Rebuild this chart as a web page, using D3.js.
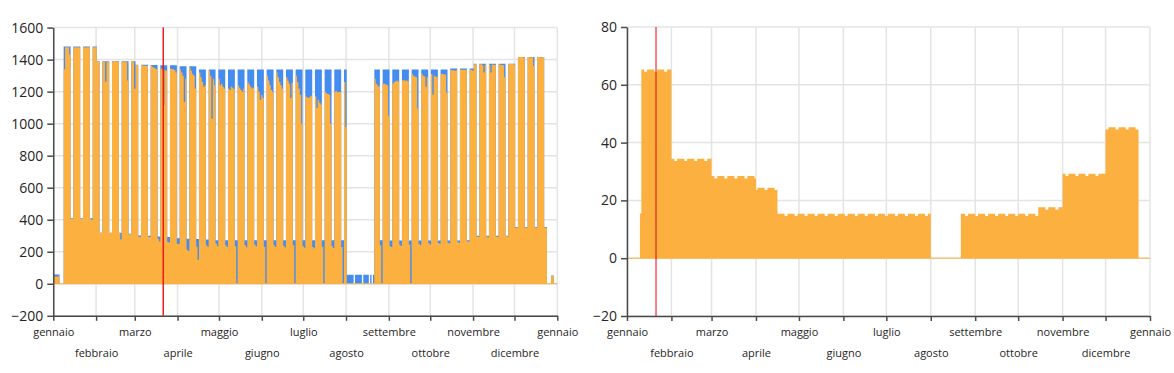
<!DOCTYPE html>
<html>
<head>
<meta charset="utf-8">
<script src="https://cdn.jsdelivr.net/npm/d3@7"></script>
<style>
  body { margin: 0; background: #fff; }
  #chart text { font-family: "Open Sans", sans-serif; fill: #262626; }
</style>
</head>
<body>
<svg id="chart" width="1174" height="373"></svg>
<script>
const monthLabels = ["gennaio", "febbraio", "marzo", "aprile", "maggio", "giugno", "luglio", "agosto", "settembre", "ottobre", "novembre", "dicembre", "gennaio"];
const leftTicks = [-200, 0, 200, 400, 600, 800, 1000, 1200, 1400, 1600];
const rightTicks = [-20, 0, 20, 40, 60, 80];

// daily values, one row per week (lun..dom), year 2018
const plannedWeeks = [
  [58, 58, 58, 58, 0, 0, 0],
  [1482, 1482, 1482, 1482, 1482, 410, 410],
  [1482, 1482, 1482, 1482, 1482, 410, 410],
  [1482, 1482, 1482, 1482, 1482, 410, 410],
  [1482, 1482, 1482, 1390, 1390, 318, 318],
  [1390, 1390, 1390, 1390, 1390, 318, 318],
  [1390, 1390, 1390, 1390, 1390, 318, 318],
  [1390, 1390, 1390, 1390, 1390, 312, 312],
  [1390, 1390, 1390, 1368, 1368, 302, 302],
  [1368, 1368, 1368, 1368, 1368, 300, 300],
  [1366, 1366, 1366, 1366, 1366, 296, 296],
  [1365, 1365, 1365, 1365, 1365, 292, 292],
  [1365, 1365, 1365, 1365, 1365, 284, 284],
  [1358, 1358, 1358, 1358, 1358, 282, 282],
  [1358, 1358, 1358, 1358, 1358, 280, 280],
  [1339, 1339, 1339, 1339, 1339, 276, 276],
  [1339, 1339, 1339, 1339, 1339, 272, 272],
  [1339, 1339, 1339, 1339, 1339, 272, 272],
  [1339, 1339, 1339, 1339, 1339, 272, 272],
  [1339, 1339, 1339, 1339, 1339, 272, 272],
  [1339, 1339, 1339, 1339, 1339, 272, 272],
  [1339, 1339, 1339, 1339, 1339, 272, 272],
  [1339, 1339, 1339, 1339, 1339, 272, 272],
  [1339, 1339, 1339, 1339, 1339, 272, 272],
  [1339, 1339, 1339, 1339, 1339, 272, 272],
  [1339, 1339, 1339, 1339, 1339, 272, 272],
  [1339, 1339, 1339, 1339, 1339, 272, 272],
  [1339, 1339, 1339, 1339, 1339, 272, 272],
  [1339, 1339, 1339, 1339, 1339, 272, 272],
  [1339, 1339, 1339, 1339, 1339, 272, 272],
  [1339, 1339, 56, 56, 56, 56, 56],
  [0, 56, 56, 56, 56, 56, 0],
  [56, 56, 56, 56, 0, 56, 0],
  [56, 1339, 1339, 1339, 1339, 272, 272],
  [1339, 1339, 1339, 1339, 1339, 270, 270],
  [1339, 1339, 1339, 1339, 1339, 270, 270],
  [1339, 1339, 1339, 1339, 1339, 270, 270],
  [1339, 1339, 1339, 1339, 1339, 270, 270],
  [1339, 1339, 1339, 1339, 1339, 270, 270],
  [1339, 1339, 1339, 1339, 1339, 270, 270],
  [1339, 1339, 1339, 1339, 1339, 270, 270],
  [1345, 1345, 1345, 1345, 1345, 270, 270],
  [1345, 1345, 1345, 1345, 1345, 272, 272],
  [1345, 1345, 1345, 1375, 1375, 300, 300],
  [1375, 1375, 1375, 1375, 1375, 300, 300],
  [1375, 1375, 1375, 1375, 1375, 300, 300],
  [1375, 1375, 1375, 1375, 1375, 300, 300],
  [1375, 1375, 1375, 1375, 1375, 354, 354],
  [1416, 1416, 1416, 1416, 1416, 354, 354],
  [1416, 1416, 1416, 1416, 1416, 354, 354],
  [1416, 1416, 1416, 1416, 1416, 354, 354],
  [0, 0, 0, 52, 52, 0, 0],
  [0],
];

const actualWeeks = [
  [46, 46, 46, 46, 0, 0, 0],
  [1340, 1478, 1478, 1478, 1430, 405, 405],
  [1476, 1478, 1478, 1478, 1476, 405, 405],
  [1478, 1478, 1476, 1478, 1478, 404, 398],
  [1478, 1478, 1478, 1388, 1388, 318, 318],
  [1388, 1388, 1262, 1388, 1386, 318, 318],
  [1388, 1388, 1388, 1388, 1386, 318, 276],
  [1388, 1388, 1388, 1386, 1270, 310, 310],
  [1388, 1388, 1218, 1366, 1366, 294, 292],
  [1366, 1362, 1362, 1362, 1360, 294, 290],
  [1362, 1355, 1350, 1345, 1340, 282, 265],
  [1345, 1340, 1115, 1335, 1330, 262, 258],
  [1345, 1342, 1338, 1335, 1320, 250, 248],
  [1340, 1320, 1300, 1135, 1280, 212, 205],
  [1350, 1330, 1310, 1300, 1220, 232, 150],
  [1320, 1290, 1260, 1230, 1240, 240, 230],
  [1330, 1300, 1030, 1280, 1240, 250, 235],
  [1280, 1240, 1250, 1230, 1220, 240, 230],
  [1220, 1210, 1230, 1225, 1215, 235, 0],
  [1240, 1225, 1210, 1200, 1220, 240, 228],
  [1260, 1245, 1230, 1220, 1225, 245, 235],
  [1230, 1200, 1150, 1180, 1160, 232, 0],
  [1300, 1270, 1240, 1210, 1200, 240, 230],
  [1320, 1290, 1260, 1240, 1220, 238, 226],
  [1290, 1270, 1250, 1160, 1255, 240, 0],
  [1300, 1260, 1220, 1180, 1000, 235, 225],
  [1170, 1165, 1160, 1170, 1175, 230, 222],
  [1170, 1100, 1150, 1130, 1120, 232, 0],
  [1200, 1190, 1185, 1180, 1000, 236, 224],
  [1200, 1205, 1195, 1200, 1198, 230, 0],
  [1260, 980, 0, 0, 0, 0, 0],
  [0, 0, 0, 0, 0, 0, 0],
  [0, 0, 0, 0, 0, 0, 0],
  [0, 1280, 1250, 1240, 1230, 240, 0],
  [1250, 1250, 1245, 1240, 1050, 235, 230],
  [1250, 1260, 1265, 1270, 1262, 245, 236],
  [1270, 1272, 1268, 1270, 1265, 246, 0],
  [1310, 1300, 1295, 1290, 1095, 250, 240],
  [1310, 1300, 1295, 1230, 1290, 255, 245],
  [1310, 1180, 1300, 1295, 1290, 255, 250],
  [1310, 1310, 1308, 1305, 1195, 258, 252],
  [1335, 1333, 1333, 1330, 1333, 262, 255],
  [1338, 1337, 1337, 1336, 1335, 265, 262],
  [1340, 1335, 1330, 1370, 1372, 295, 292],
  [1370, 1372, 1365, 1320, 1370, 295, 290],
  [1368, 1320, 1370, 1368, 1366, 296, 292],
  [1370, 1368, 1366, 1365, 1290, 298, 294],
  [1372, 1375, 1373, 1372, 1370, 350, 352],
  [1416, 1416, 1416, 1416, 1414, 352, 352],
  [1416, 1415, 1414, 1416, 1360, 352, 350],
  [1416, 1416, 1414, 1415, 1416, 352, 350],
  [0, 0, 0, 50, 50, 0, 0],
  [0],
];

const rightWeeks = [
  [0, 0, 0, 0, 0, 0, 0],
  [0, 0, 15.5, 65.3, 65.3, 64.5, 64.5],
  [65.3, 65.3, 65.3, 65.3, 65.3, 64.5, 64.5],
  [65.3, 65.3, 65.3, 65.3, 65.3, 64.5, 64.5],
  [65.3, 65.3, 65.3, 34.4, 34.4, 33.6, 33.6],
  [34.4, 34.4, 34.4, 34.4, 34.4, 33.6, 33.6],
  [34.4, 34.4, 34.4, 34.4, 34.4, 33.6, 33.6],
  [34.4, 34.4, 34.4, 34.4, 34.4, 33.6, 33.6],
  [34.4, 34.4, 34.4, 28.4, 28.4, 27.6, 27.6],
  [28.4, 28.4, 28.4, 28.4, 28.4, 27.6, 27.6],
  [28.4, 28.4, 28.4, 28.4, 28.4, 27.6, 27.6],
  [28.4, 28.4, 28.4, 28.4, 28.4, 27.6, 27.6],
  [28.4, 28.4, 28.4, 28.4, 28.4, 27.6, 23.6],
  [24.4, 24.4, 24.4, 24.4, 24.4, 23.6, 23.6],
  [24.4, 24.4, 24.4, 24.4, 24.4, 23.6, 23.6],
  [15.4, 15.4, 15.4, 15.4, 15.4, 14.6, 14.6],
  [15.4, 15.4, 15.4, 15.4, 15.4, 14.6, 14.6],
  [15.4, 15.4, 15.4, 15.4, 15.4, 14.6, 14.6],
  [15.4, 15.4, 15.4, 15.4, 15.4, 14.6, 14.6],
  [15.4, 15.4, 15.4, 15.4, 15.4, 14.6, 14.6],
  [15.4, 15.4, 15.4, 15.4, 15.4, 14.6, 14.6],
  [15.4, 15.4, 15.4, 15.4, 15.4, 14.6, 14.6],
  [15.4, 15.4, 15.4, 15.4, 15.4, 14.6, 14.6],
  [15.4, 15.4, 15.4, 15.4, 15.4, 14.6, 14.6],
  [15.4, 15.4, 15.4, 15.4, 15.4, 14.6, 14.6],
  [15.4, 15.4, 15.4, 15.4, 15.4, 14.6, 14.6],
  [15.4, 15.4, 15.4, 15.4, 15.4, 14.6, 14.6],
  [15.4, 15.4, 15.4, 15.4, 15.4, 14.6, 14.6],
  [15.4, 15.4, 15.4, 15.4, 15.4, 14.6, 14.6],
  [15.4, 15.4, 15.4, 15.4, 15.4, 14.6, 14.6],
  [15.4, 15.4, 0, 0, 0, 0, 0],
  [0, 0, 0, 0, 0, 0, 0],
  [0, 0, 0, 0, 0, 0, 0],
  [0, 0, 15.4, 15.4, 15.4, 14.6, 14.6],
  [15.4, 15.4, 15.4, 15.4, 15.4, 14.6, 14.6],
  [15.4, 15.4, 15.4, 15.4, 15.4, 14.6, 14.6],
  [15.4, 15.4, 15.4, 15.4, 15.4, 14.6, 14.6],
  [15.4, 15.4, 15.4, 15.4, 15.4, 14.6, 14.6],
  [15.4, 15.4, 15.4, 15.4, 15.4, 14.6, 14.6],
  [15.4, 15.4, 15.4, 15.4, 15.4, 14.6, 14.6],
  [15.4, 15.4, 15.4, 15.4, 15.4, 14.6, 14.6],
  [17.6, 17.6, 17.6, 17.6, 17.6, 16.8, 16.8],
  [17.6, 17.6, 17.6, 17.6, 17.6, 16.8, 16.8],
  [17.6, 17.6, 17.6, 29.2, 29.2, 28.4, 28.4],
  [29.2, 29.2, 29.2, 29.2, 29.2, 28.4, 28.4],
  [29.2, 29.2, 29.2, 29.2, 29.2, 28.4, 28.4],
  [29.2, 29.2, 29.2, 29.2, 29.2, 28.4, 28.4],
  [29.2, 29.2, 29.2, 29.2, 29.2, 44.5, 44.5],
  [45.3, 45.3, 45.3, 45.3, 45.3, 44.5, 44.5],
  [45.3, 45.3, 45.3, 45.3, 45.3, 44.5, 44.5],
  [45.3, 45.3, 45.3, 45.3, 45.3, 44.5, 44.5],
  [0, 0, 0, 0, 0, 0, 0],
  [0],
];

const leftMarker = new Date(2018, 2, 21, 15);
const rightMarker = new Date(2018, 0, 21, 6);

const start = new Date(2018, 0, 1);
const end = new Date(2019, 0, 1);
const days = d3.timeDay.range(start, end);
const monthTicks = d3.timeMonth.range(start, d3.timeDay.offset(end, 1));

const colors = { blue: "#458cf0", orange: "#fbb040", grid: "#e4e4e4", axis: "#4a4a4a", marker: "#f01010" };

const svg = d3.select("#chart");

function drawPanel(p) {
  const g = svg.append("g").attr("transform", `translate(${p.left},${p.top})`);
  const x = d3.scaleTime().domain([start, end]).range([0, p.width]);
  const y = d3.scaleLinear().domain(p.domain).range([p.height, 0]);

  // grid
  g.append("g")
    .selectAll("line")
    .data(p.ticks)
    .join("line")
    .attr("x1", 0)
    .attr("x2", p.width)
    .attr("y1", (d) => y(d))
    .attr("y2", (d) => y(d))
    .attr("stroke", colors.grid)
    .attr("stroke-width", 1.5);
  g.append("g")
    .selectAll("line")
    .data(monthTicks)
    .join("line")
    .attr("x1", (d) => x(d))
    .attr("x2", (d) => x(d))
    .attr("y1", 0)
    .attr("y2", p.height)
    .attr("stroke", colors.grid)
    .attr("stroke-width", 1.5);

  // series (step areas, one step per day)
  p.series.forEach((s) => {
    const vals = s.weeks.flat();
    const pts = days.map((d, i) => ({ date: d3.timeHour.offset(d, p.shiftHours), v: vals[i] }));
    pts.push({ date: end, v: vals[vals.length - 1] });
    const area = d3
      .area()
      .curve(d3.curveStepAfter)
      .x((d) => x(d.date))
      .y0(y(0))
      .y1((d) => y(d.v));
    g.append("path").datum(pts).attr("d", area).attr("fill", s.color);
  });
  g.append("line")
    .attr("x1", 0)
    .attr("x2", p.width)
    .attr("y1", y(0))
    .attr("y2", y(0))
    .attr("stroke", colors.orange)
    .attr("stroke-width", 1);

  // axes
  const yAxis = g.append("g").call(d3.axisLeft(y).tickValues(p.ticks).tickFormat(d3.format("d")).tickSize(6).tickPadding(4).tickSizeOuter(0));
  yAxis.selectAll("text").style("font-size", "14px");
  const xAxis = g
    .append("g")
    .attr("transform", `translate(0,${p.height})`)
    .call(d3.axisBottom(x).tickValues(monthTicks).tickSize(5).tickSizeOuter(0).tickFormat((d, i) => monthLabels[i]));
  xAxis
    .selectAll("text")
    .style("font-size", "11px")
    .attr("dy", 0)
    .attr("y", (d, i) => (i % 2 === 0 ? 20 : 41));
  g.selectAll(".domain, .tick line").attr("stroke", colors.axis).attr("stroke-width", 1.5);

  // marker
  g.append("line")
    .attr("x1", x(p.marker))
    .attr("x2", x(p.marker))
    .attr("y1", 0)
    .attr("y2", p.height)
    .attr("stroke", colors.marker)
    .attr("stroke-opacity", p.markerOpacity)
    .attr("stroke-width", 1.4);
}

drawPanel({
  left: 53.3,
  top: 27.6,
  width: 504,
  height: 288.2,
  domain: [-200, 1600],
  ticks: leftTicks,
  shiftHours: 12,
  marker: leftMarker,
  markerOpacity: 1,
  series: [
    { weeks: plannedWeeks, color: colors.blue },
    { weeks: actualWeeks, color: colors.orange },
  ],
});

drawPanel({
  left: 627,
  top: 27,
  width: 523,
  height: 289,
  domain: [-20, 80],
  ticks: rightTicks,
  shiftHours: 0,
  marker: rightMarker,
  markerOpacity: 0.75,
  series: [{ weeks: rightWeeks, color: colors.orange }],
});
</script>
</body>
</html>
